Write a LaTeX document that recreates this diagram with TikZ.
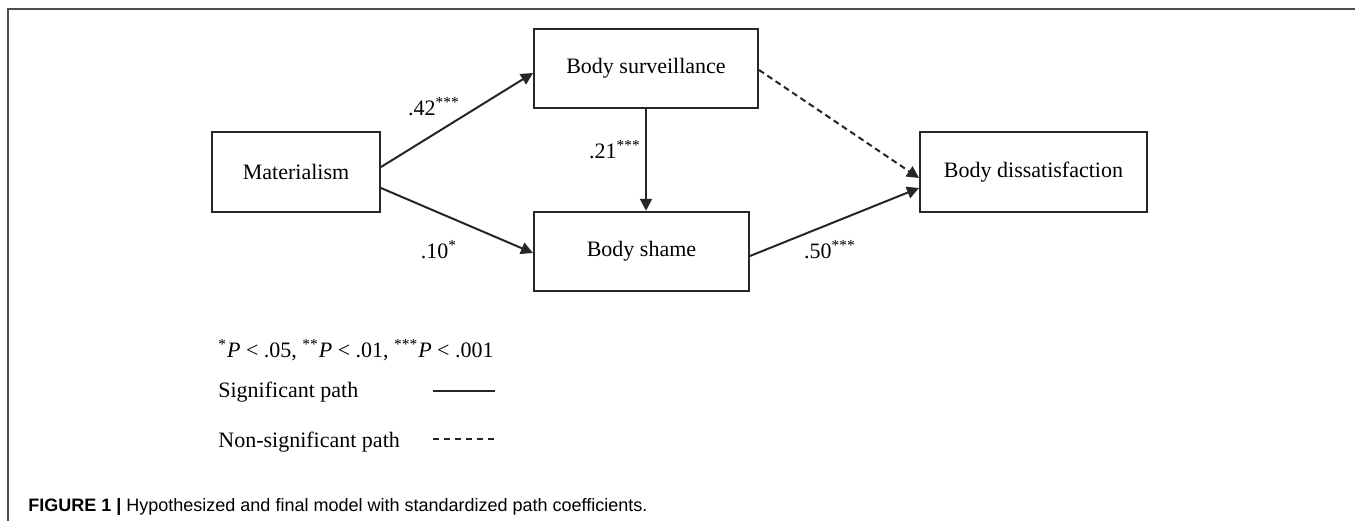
\documentclass[tikz,border=0pt]{standalone}
\usepackage{fontspec}
\setmainfont{Liberation Serif}
\newfontfamily\capfont{Liberation Sans}
\usetikzlibrary{arrows.meta}
\def\boxh{39.75pt}

\begin{document}
\begin{tikzpicture}[x=0.5pt, y=-0.5pt,
    font=\fontsize{11}{13}\selectfont,
    var/.style={draw=black!85, line width=1pt, minimum height=\boxh, inner sep=0pt},
    sig/.style={draw=black!85, line width=1pt, -{Triangle[length=6pt,width=6pt]}},
    nonsig/.style={sig, dash pattern=on 3pt off 2pt},
    coef/.style={inner sep=0pt}]
    \useasboundingbox (0,0) rectangle (1355,521);
    % Frame.
    \draw[black!70, line width=0.8pt] (8,521) -- (8,9) -- (1355,9);
    % Variables.
    \node[var, minimum width=84pt]    (mat)    at (296,172)    {Materialism};
    \node[var, minimum width=112pt]   (surv)   at (646,68.5)   {Body surveillance};
    \node[var, minimum width=107.5pt] (shame)  at (641.5,251.5) {Body shame};
    \node[var, minimum width=113.5pt] (dissat) at (1033.5,172) {Body dissatisfaction};
    % Paths.
    \draw[sig] ([yshift=2.5pt]mat.east) -- ([yshift=-2.25pt]surv.west);
    \draw[sig] ([yshift=-8pt]mat.east) -- ([yshift=-0.75pt]shame.west);
    \draw[sig] (surv.south) -- (surv.south |- shame.north);
    \draw[nonsig] ([yshift=-0.75pt]surv.east) -- ([yshift=-3pt]dissat.west);
    \draw[sig] ([yshift=-2.25pt]shame.east) -- ([yshift=-8pt]dissat.west);
    % Coefficients.
    \node[coef] (c42) at (434,107) {.42\textsuperscript{***}};
    \node[coef] (c21) at (615,150) {.21\textsuperscript{***}};
    \node[coef] (c10) at (439,250) {.10\textsuperscript{*}};
    \node[coef] (c50) at (830,250) {.50\textsuperscript{***}};
    % Legend.
    \node[coef, anchor=base west] (pval) at (218,357)
        {\textsuperscript{*}\textit{P} < .05, \textsuperscript{**}\textit{P} < .01, \textsuperscript{***}\textit{P} < .001};
    \node[coef, anchor=base west] (sigtxt) at (218,397) {Significant path};
    \node[coef, anchor=base west] (nstxt) at (218,447) {Non-significant path};
    \coordinate (sigA) at (433,391);
    \coordinate (sigB) at (495,391);
    \coordinate (nsA) at (433,439);
    \coordinate (nsB) at (495,439);
    \draw[black!85, line width=0.6pt] (sigA) -- (sigB);
    \draw[black!85, line width=0.6pt, dash pattern=on 3pt off 2.5pt] (nsA) -- (nsB);
    % Caption.
    \node[coef, anchor=base west, font=\capfont\fontsize{9}{11}\selectfont] (cap) at (28,511)
        {\textbf{FIGURE 1 |} Hypothesized and final model with standardized path coefficients.};
\end{tikzpicture}
\end{document}
